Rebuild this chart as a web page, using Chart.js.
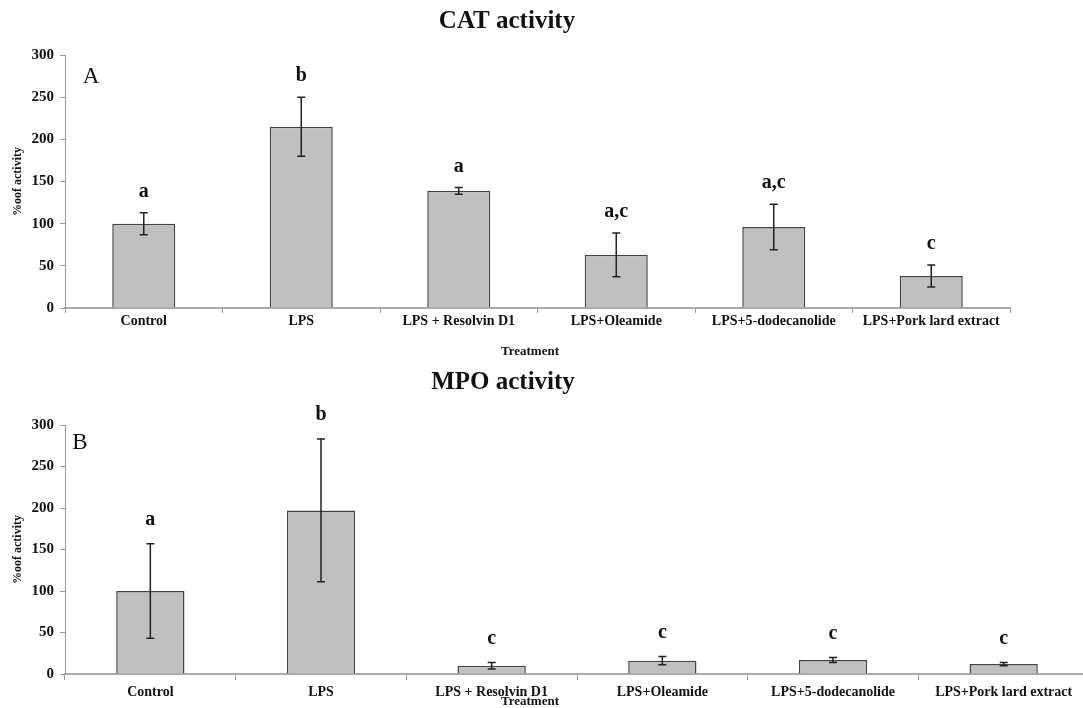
<!DOCTYPE html>
<html>
<head>
<meta charset="utf-8">
<script src="https://cdn.jsdelivr.net/npm/chart.js@4.4.1/dist/chart.umd.min.js"></script>
<style>
  html, body { margin: 0; padding: 0; background: #fff; overflow: hidden; width: 1083px; height: 708px; }
  canvas { position: absolute; left: 0; }
  #catChart { top: 0; }
  #mpoChart { top: 330px; }
</style>
</head>
<body>
<canvas id="catChart" width="1083" height="360"></canvas>
<canvas id="mpoChart" width="1100" height="378"></canvas>
<script>
// treatments on the x axis
const categories = ['Control', 'LPS', 'LPS + Resolvin D1', 'LPS+Oleamide', 'LPS+5-dodecanolide', 'LPS+Pork lard extract'];

// panel A - CAT activity (% of activity, mean and error)
const catMean = [100, 215, 139, 63, 96, 38];
const catErr = [13, 35, 4, 26, 27, 13];
const catLetters = ['a', 'b', 'a', 'a,c', 'a,c', 'c'];

// panel B - MPO activity
const mpoMean = [100, 197, 10, 16, 17, 12];
const mpoErr = [57, 86, 4, 5, 3, 2];
const mpoLetters = ['a', 'b', 'c', 'c', 'c', 'c'];

// y axis ticks
const yMin = 0, yMax = 300, yStep = 50;

const serif = '"Liberation Serif", "Times New Roman", serif';

// error bars, significance letters, panel title, label and x title
function annotations(means, errs, letters, cfg) {
    return {
        id: 'annotations',
        afterDatasetsDraw(chart) {
            const { ctx, scales: { x, y } } = chart;
            ctx.save();
            ctx.strokeStyle = '#222';
            ctx.lineWidth = 1.5;
            ctx.fillStyle = '#111';
            ctx.textAlign = 'center';
            ctx.textBaseline = 'middle';
            means.forEach((m, i) => {
                const px = x.getPixelForValue(i);
                const hi = y.getPixelForValue(m + errs[i]);
                const lo = y.getPixelForValue(m - errs[i]);
                ctx.beginPath();
                ctx.moveTo(px, hi); ctx.lineTo(px, lo);
                ctx.moveTo(px - 4, hi); ctx.lineTo(px + 4, hi);
                ctx.moveTo(px - 4, lo); ctx.lineTo(px + 4, lo);
                ctx.stroke();
                ctx.font = 'bold 20px ' + serif;
                ctx.fillText(letters[i], px, hi - cfg.gap);
            });
            ctx.font = 'bold 25px ' + serif;
            ctx.fillText(cfg.title, cfg.titleX, cfg.titleY);
            ctx.font = '23px ' + serif;
            ctx.fillText(cfg.panel, cfg.panelX, cfg.panelY);
            ctx.font = 'bold 13px ' + serif;
            ctx.fillText('Treatment', cfg.xTitleX, cfg.xTitleY);
            ctx.restore();
        }
    };
}

function makeChart(id, means, errs, letters, cfg) {
    return new Chart(document.getElementById(id), {
        type: 'bar',
        data: {
            labels: categories,
            datasets: [{
                data: means,
                backgroundColor: '#c0c0c0',
                borderColor: '#444',
                borderWidth: 1.5,
                categoryPercentage: 1,
                barPercentage: 0.4
            }]
        },
        options: {
            responsive: false,
            animation: false,
            layout: { padding: cfg.padding },
            plugins: { legend: { display: false }, tooltip: { enabled: false } },
            scales: {
                x: {
                    afterFit: s => { s.height = cfg.xHeight; },
                    grid: { drawOnChartArea: false, tickLength: cfg.tickLen, color: '#999', offset: true },
                    border: { color: '#aaa', width: 2 },
                    ticks: { color: '#111', maxRotation: 0, autoSkip: false, padding: cfg.tickPad,
                             font: { family: serif, size: 14, weight: 'bold' } }
                },
                y: {
                    min: yMin, max: yMax,
                    afterFit: s => { s.width = 65; },
                    grid: { drawOnChartArea: false, tickLength: 5, color: '#999' },
                    border: { color: '#999', width: 1 },
                    ticks: { stepSize: yStep, color: '#111', padding: 6,
                             font: { family: serif, size: 15, weight: 'bold' } },
                    title: { display: true, text: '%oof activity', color: '#111', padding: { top: 11, bottom: 0 },
                             font: { family: serif, size: 12, weight: 'bold' } }
                }
            }
        },
        plugins: [annotations(means, errs, letters, cfg)]
    });
}

makeChart('catChart', catMean, catErr, catLetters, {
    padding: { left: 0, right: 73, top: 55, bottom: 0 },
    xHeight: 52, tickLen: 5, tickPad: 0, gap: 21,
    title: 'CAT activity', titleX: 507, titleY: 22,
    panel: 'A', panelX: 91, panelY: 77,
    xTitleX: 530, xTitleY: 352
});

makeChart('mpoChart', mpoMean, mpoErr, mpoLetters, {
    padding: { left: 0, right: 11, top: 95, bottom: 0 },
    xHeight: 34, tickLen: 6, tickPad: 4, gap: 24,
    title: 'MPO activity', titleX: 503, titleY: 53,
    panel: 'B', panelX: 80, panelY: 113,
    xTitleX: 530, xTitleY: 372
});
</script>
</body>
</html>
